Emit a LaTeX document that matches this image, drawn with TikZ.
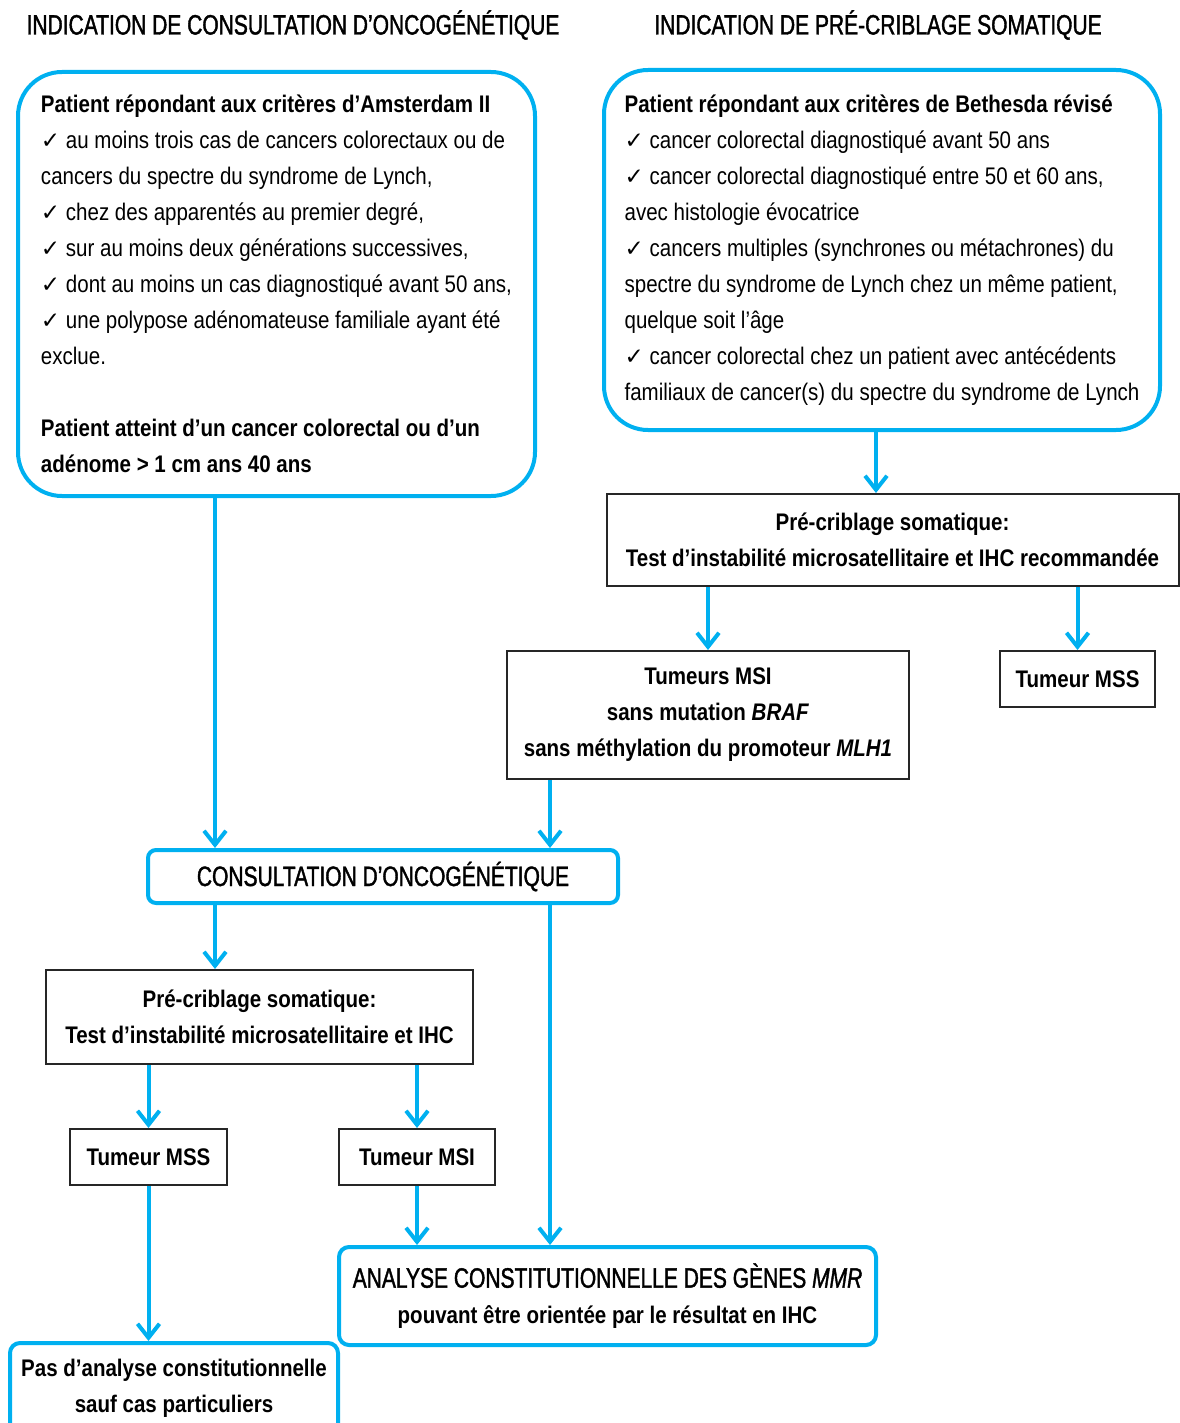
\documentclass[tikz,border=0pt]{standalone}
\usepackage{fontspec}
\setmainfont[FakeStretch=0.855]{Liberation Sans}
\newfontfamily\headfont[FakeStretch=0.75, FakeBold=1.4]{Liberation Sans}
\newfontfamily\symfont{DejaVu Sans}
\usepackage{tikz}
\usetikzlibrary{arrows.meta}
\definecolor{flowblue}{RGB}{0,176,240}
\newcommand{\tick}{{\symfont\fontsize{11.5}{18}\selectfont ✓}}

\begin{document}
\begin{tikzpicture}[x=0.5pt, y=-0.5pt,
	bluebox/.style={draw=flowblue, line width=2pt, rounded corners=#1, inner sep=0pt},
	bluebox/.default=5pt,
	blackbox/.style={draw=black!85, line width=1pt, inner sep=0pt, align=center,
		font=\fontsize{12}{18}\selectfont\bfseries},
	heading/.style={font=\headfont\fontsize{14}{18}\selectfont},
	link/.style={draw=flowblue, line width=2pt, -{Straight Barb[length=7pt, width=11pt]}}]
			\useasboundingbox (0,0) rectangle (1179,1423);
			\node[heading] (headA) at (293,25) {INDICATION DE CONSULTATION D’ONCOGÉNÉTIQUE};
			\node[heading] (headB) at (878,25) {INDICATION DE PRÉ-CRIBLAGE SOMATIQUE};
			%%%%%%%%%%%%%%%%%%%%%%%%%%%%%%%%
			\node[bluebox=22pt, minimum width=258.5pt, minimum height=212pt, align=left,
				font=\fontsize{12}{18}\selectfont] (amsterdam) at (276.5,284)
				{\textbf{Patient répondant aux critères d’Amsterdam II}\\
				\tick\ au moins trois cas de cancers colorectaux ou de\\
				cancers du spectre du syndrome de Lynch,\\
				\tick\ chez des apparentés au premier degré,\\
				\tick\ sur au moins deux générations successives,\\
				\tick\ dont au moins un cas diagnostiqué avant 50 ans,\\
				\tick\ une polypose adénomateuse familiale ayant été\\
				exclue.\\[18pt]
				\textbf{Patient atteint d’un cancer colorectal ou d’un}\\
				\textbf{adénome > 1 cm ans 40 ans}};
			\node[bluebox=22pt, minimum width=278pt, minimum height=180pt, align=left,
				font=\fontsize{12}{18}\selectfont] (bethesda) at (882,250)
				{\textbf{Patient répondant aux critères de Bethesda révisé}\\
				\tick\ cancer colorectal diagnostiqué avant 50 ans\\
				\tick\ cancer colorectal diagnostiqué entre 50 et 60 ans,\\
				avec histologie évocatrice\\
				\tick\ cancers multiples (synchrones ou métachrones) du\\
				spectre du syndrome de Lynch chez un même patient,\\
				quelque soit l’âge\\
				\tick\ cancer colorectal chez un patient avec antécédents\\
				familiaux de cancer(s) du spectre du syndrome de Lynch};
			%%%%%%%%%%%%%%%%%%%%%%%%%%%%%%%%
			\node[blackbox, minimum width=286pt, minimum height=46pt] (criblageR) at (892.5,540)
				{Pré-criblage somatique:\\Test d’instabilité microsatellitaire et IHC recommandée};
			\node[blackbox, minimum width=201pt, minimum height=64pt] (msiR) at (708,715)
				{Tumeurs MSI\\sans mutation \textit{BRAF}\\sans méthylation du promoteur \textit{MLH1}};
			\node[blackbox, minimum width=77.5pt, minimum height=28pt] (mssR) at (1077.5,679) {Tumeur MSS};
			%%%%%%%%%%%%%%%%%%%%%%%%%%%%%%%%
			\node[bluebox=4pt, minimum width=235pt, minimum height=26.5pt, heading] (consult) at (383,876.5)
				{CONSULTATION D’ONCOGÉNÉTIQUE};
			\node[blackbox, minimum width=213.5pt, minimum height=47pt] (criblageL) at (259.5,1017)
				{Pré-criblage somatique:\\Test d’instabilité microsatellitaire et IHC};
			\node[blackbox, minimum width=78.5pt, minimum height=28pt] (mssL) at (148.5,1157) {Tumeur MSS};
			\node[blackbox, minimum width=78pt, minimum height=28pt] (msiL) at (417,1157) {Tumeur MSI};
			%%%%%%%%%%%%%%%%%%%%%%%%%%%%%%%%
			\node[bluebox=5pt, minimum width=268.5pt, minimum height=49pt, align=center,
				font=\fontsize{12}{18}\selectfont] (analyse) at (607.5,1296)
				{{\headfont\fontsize{14}{18}\selectfont ANALYSE CONSTITUTIONNELLE DES GÈNES \textit{MMR}}\\
				\textbf{pouvant être orientée par le résultat en IHC}};
			\node[bluebox=5pt, minimum width=164pt, minimum height=45pt, align=center,
				font=\fontsize{12}{18}\selectfont\bfseries] (nocase) at (174,1388)
				{Pas d’analyse constitutionnelle\\sauf cas particuliers};
			%%%%%%%%%%%%%%%%%%%%%%%%%%%%%%%%
			\coordinate (xa) at (215,0);
			\coordinate (xb) at (550,0);
			\coordinate (xc) at (876,0);
			\draw[link] (bethesda.south -| xc) -- (criblageR.north -| xc);
			\draw[link] (criblageR.south -| msiR) -- (msiR.north);
			\draw[link] (criblageR.south -| mssR) -- (mssR.north);
			\draw[link] (amsterdam.south -| xa) -- (consult.north -| xa);
			\draw[link] (msiR.south -| xb) -- (consult.north -| xb);
			\draw[link] (consult.south -| xa) -- (criblageL.north -| xa);
			\draw[link] (consult.south -| xb) -- (analyse.north -| xb);
			\draw[link] (criblageL.south -| mssL) -- (mssL.north);
			\draw[link] (criblageL.south -| msiL) -- (msiL.north);
			\draw[link] (mssL.south) -- (nocase.north -| mssL);
			\draw[link] (msiL.south) -- (analyse.north -| msiL);
		\end{tikzpicture}
\end{document}
